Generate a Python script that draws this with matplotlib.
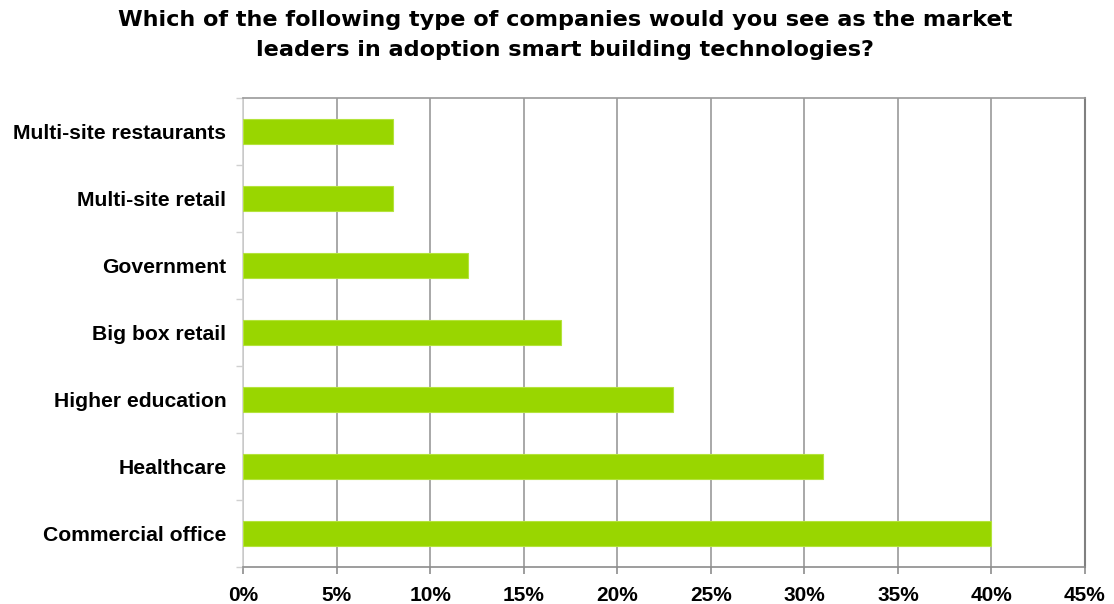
import matplotlib
matplotlib.use("Agg")
import matplotlib.pyplot as plt
from matplotlib.ticker import FixedLocator

categories = ["Commercial office", "Healthcare", "Higher education",
              "Big box retail", "Government", "Multi-site retail",
              "Multi-site restaurants"]
values = [40, 31, 23, 17, 12, 8, 8]
x_ticks = [0, 5, 10, 15, 20, 25, 30, 35, 40, 45]
x_tick_labels = [f"{t}%" for t in x_ticks]
title = ("Which of the following type of companies would you see as the market\n"
         "leaders in adoption smart building technologies?")

plt.rcParams["font.family"] = ["Liberation Sans", "DejaVu Sans"]

fig = plt.figure(figsize=(11.14, 6.04), dpi=100)
ax = fig.add_axes([243 / 1114, 1 - 567 / 604, (1085 - 243) / 1114, (567 - 98) / 604])

pos = list(range(len(categories)))
ax.barh(pos, values, height=0.36, color="#99d600", edgecolor="#b4e33c",
        linewidth=0.8, zorder=3)

ax.set_xlim(0, 45)
ax.set_ylim(-0.5, len(categories) - 0.5)
ax.set_xticks(x_ticks)
ax.set_xticklabels(x_tick_labels, fontsize=15, fontweight="bold")
ax.set_yticks(pos)
ax.set_yticklabels(categories, fontsize=15.2, fontweight="bold")
ax.tick_params(axis="y", length=0, pad=12)
ax.yaxis.set_minor_locator(FixedLocator([p - 0.5 for p in range(len(categories) + 1)]))
ax.tick_params(axis="y", which="minor", length=5, color="#d0d0d0", width=1)
ax.tick_params(axis="x", length=5, color="#8c8c8c", width=1.2, pad=9)

ax.grid(axis="x", color="#9a9a9a", linewidth=1.2, zorder=0)
ax.spines["left"].set_color("#d0d0d0")
ax.spines["left"].set_linewidth(1.2)
ax.spines["bottom"].set_color("#8c8c8c")
ax.spines["bottom"].set_linewidth(1.2)
ax.spines["top"].set_color("#9a9a9a")
ax.spines["top"].set_linewidth(1.2)
ax.spines["right"].set_color("#808080")
ax.spines["right"].set_linewidth(1.5)

fig.text(565 / 1114, 1 - 10 / 604, title, ha="center", va="top",
         fontsize=16.1, fontweight="bold", linespacing=1.6,
         family=["DejaVu Sans"])

fig.savefig("out.png", dpi=100)
